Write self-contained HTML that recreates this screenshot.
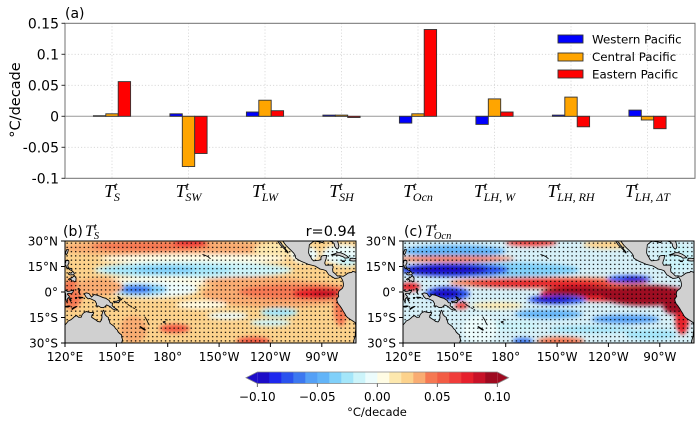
<!DOCTYPE html>
<html><head><meta charset="utf-8"><style>body{margin:0;background:#fff}svg{display:block}
.ml{font-family:"Liberation Serif","DejaVu Serif",serif;font-style:italic}
</style></head><body>
<svg width="700" height="423" viewBox="0 0 700 423" xmlns="http://www.w3.org/2000/svg" font-family="DejaVu Sans, Liberation Sans, sans-serif">
<defs>
<filter id="blur" x="-0.2" y="-0.2" width="1.4" height="1.4"><feGaussianBlur stdDeviation="1.2"/></filter>
<pattern id="dots" patternUnits="userSpaceOnUse" x="120" y="-30" width="2.5" height="2.5"><circle cx="1.25" cy="1.25" r="0.43" fill="#000"/></pattern>
<clipPath id="mc"><rect x="120" y="-30" width="170" height="60"/></clipPath>
<g id="land" fill="#d0d0d0" stroke="#000" stroke-width="0.5" stroke-linejoin="round">
<polygon points="120,19.5 122,17 123.5,16.3 124.5,15.5 125.5,14.5 126.8,13.9 128,14.9 129.5,14.8 130,13.3 131,12.2 132.5,11.5 133.5,11.8 135,12.1 136.8,12.1 136.5,13 135.8,13.5 135.5,14.8 136.5,15.5 137.8,16.3 139,17.3 140.5,17.6 141.3,16.5 141.6,15 141.5,13.5 141.8,12.5 142.2,11 142.6,10.7 143,11.8 143.5,13.5 144.3,14.3 145.3,14.9 145.4,16 146,17.2 146.3,18.5 147.5,19.3 148.8,20.3 149.5,21.5 150.5,22.3 151,23.5 152,24.5 153.1,25.3 153.1,26.5 153.6,28 153.1,30 153,31 119,31 119,19.8"/>
<polygon points="131,1 132.5,0.5 134,0.9 135.5,3 137,1.5 138.5,1.8 140.5,2.5 142,3.2 144,3.8 145.8,5 146.5,6.3 147.8,6.5 147.5,8 148.5,9 150,10 150.8,10.6 149.5,10.6 147.8,10 146.5,8.7 144.3,7.6 143.5,8.5 142.5,9.2 141,9.1 139.5,8.2 138,8.3 138.5,7 137.6,5.3 136,4.5 134.5,3.8 133.5,4 132.2,2.8 131.5,1.5"/>
<polygon points="148.3,5.5 150,5.5 151.5,4.8 152.3,4.3 151.8,5.8 150.5,6.3 149,6.2"/>
<polygon points="150.8,2.6 152.3,3.5 153.2,4.5 152.5,4.8 151.5,3.6"/>
<polyline fill="none" points="154.6,5.3 155.5,6.2 155.8,6.9"/>
<polyline fill="none" points="156.5,7 157.5,8 159,8.5"/>
<polyline fill="none" points="159.5,9.2 160.8,9.8"/>
<polyline fill="none" points="160.8,8.5 161.5,9.5"/>
<polyline fill="none" points="161.3,10.2 162.2,10.8"/>
<polyline fill="none" points="166.5,14.5 167.2,15.5 167.8,16.5 168.3,17.7 169.3,19.5"/>
<polygon points="164,20.3 165.5,21.3 167,22.3 166.6,22.5 165,21.5 163.8,20.4"/>
<polygon points="177.3,17.5 178.5,17.3 178.3,18.2 177.5,18"/>
<polyline fill="none" points="178.9,16.3 180,16.5"/>
<polyline fill="none" points="200.3,-22.1 202,-21.5 203.5,-20.8 205,-19.5"/>
<polygon points="120.5,-18.5 122.2,-18.5 122.3,-17 121.6,-15.8 122,-14.2 124,-13.7 124,-12.6 123,-13 121.8,-13.9 120.8,-14.5 120.6,-15.5 120,-16.3 120.4,-17.5"/>
<polygon points="122,-7.5 123,-8 124,-8.3 125.5,-9.7 126.5,-8 126.3,-6.5 125.5,-5.9 125,-6.5 124,-6.5 123.5,-7.5 122.5,-7"/>
<polygon points="122.5,-11.5 123.5,-11 124.5,-12.2 125.5,-11 125,-10 124,-10.2 123,-10 122,-10.5"/>
<polygon points="120.2,-22.8 121,-25 122,-25 121.5,-23 120.8,-22"/>
<polygon points="119.8,-0.5 120.3,0.8 120.5,2.5 120.3,3.7 120.9,5.6 121.5,5.4 121.3,4.2 122,3.2 122.8,4.5 123.2,5.5 123.6,5.1 123.1,3.8 122.3,2.3 121.3,1.2 121.8,0.8 123.3,0.8 124.4,0.5 125.2,-1.3 124.4,-0.9 122.8,-0.5 121.2,-0.3 120.8,-1.2 120.2,-0.9"/>
<polygon points="127.5,-1.8 128.2,-1 128,0.2 128.6,1 128.3,0.1 128.7,-1.5 128,-2.2"/>
<polygon points="128,3 130.5,3.2 130,3.5 128.2,3.4"/>
<polygon points="126,3.3 127,3.2 126.7,3.8"/>
<polygon points="124,9.9 125.2,9 127,8.4 126.5,8.8 125,9.7 124.2,10.3"/>
<polygon points="120,8.5 122,8.2 123,8.3 122,8.8 120.5,8.8"/>
<polygon points="244.2,-31 244.2,-30 245.5,-28 247,-26.5 248.5,-25 249.5,-23.5 250.2,-22.9 250.3,-23.5 249,-25 248,-26.5 246.7,-28 245.5,-29.5 245.3,-31"/>
<polygon points="247.2,-31 247.2,-30 249,-27.5 250.5,-26 252,-24.5 253.5,-23 254.5,-21.5 254.7,-20 256,-19.1 258,-18 260,-17.2 262,-16.3 264,-15.8 266,-15.3 267.5,-14.4 269,-13.5 271,-13.1 272.5,-12.5 273.3,-11.3 274.2,-10 275,-9.6 276,-9 277.5,-8 279,-8.1 280,-8.3 280.7,-8.9 281.3,-8.4 281.9,-7.4 282.3,-6.4 282.6,-5 282.6,-3.5 282,-2.2 281,-1.3 280.3,-0.9 279.8,0 279.6,1.5 279.9,2.5 279.2,3.5 278.7,4.5 279,5.5 279.5,6.8 280.5,8 281.5,9.5 282.5,11.2 283.5,12.8 284,13.8 285,15 286.5,16 288,17 289.5,18 289.8,19.5 289.8,22 289.6,24 289.5,26 288.8,28 288.5,30 288.5,31 292,31 292,-10.8 290,-11.5 289.2,-11.8 288,-12.2 287.5,-11.5 286,-11.3 285,-11 284.5,-10.5 283.5,-9.8 282.5,-9.2 281.5,-9.4 280.5,-9.5 279.2,-9.4 278.5,-10 277.8,-10.8 276.5,-11.8 276.3,-13.5 276.7,-14.8 276,-15.8 275,-15.9 274,-15.8 272.2,-15.8 271.7,-17 272,-18.2 272.5,-19.5 272.8,-21.5 271.5,-21.5 270,-21.2 269.5,-20.3 269.5,-19 268,-18.6 266.5,-18.5 265.3,-18.3 264.2,-19.2 263.6,-20.5 262.8,-21.7 262.3,-23 262.4,-25 262.6,-26.5 262.7,-27.7 263.5,-28.5 264.5,-29.3 265.5,-29.8 266.3,-29.8 268,-29.6 269.5,-29.3 270.5,-29 271,-29.8 272.5,-30.3 275,-29.8 276,-29.5 277.2,-28.5 277.5,-27 278.2,-25.9 279,-25.2 279.7,-25.8 280,-27 279.5,-29 278.8,-31"/>
<polygon points="275.5,-21.8 277,-22.3 279,-23.1 281,-23.1 283,-22.3 285,-21 285.8,-20.2 283.5,-19.9 282.5,-20.7 280,-21.6 277.5,-21.9"/>
<polygon points="286.5,-19.8 288,-19.9 290,-19.6 291.5,-18.5 288.5,-18.2 286.5,-18.4"/>
<polygon points="281.7,-18.4 283.3,-18.2 283.2,-17.8 282,-17.9"/>
</g>
</defs>

<!-- ===== Panel (a) ===== -->
<g stroke="#d4d4d4" stroke-width="0.8" stroke-dasharray="1.2,2">
<line x1="65" y1="54.3" x2="695" y2="54.3"/><line x1="65" y1="85.3" x2="695" y2="85.3"/>
<line x1="65" y1="147.3" x2="695" y2="147.3"/>
<line x1="112" y1="23" x2="112" y2="178"/><line x1="188.5" y1="23" x2="188.5" y2="178"/>
<line x1="265" y1="23" x2="265" y2="178"/><line x1="341.5" y1="23" x2="341.5" y2="178"/>
<line x1="418" y1="23" x2="418" y2="178"/><line x1="494.5" y1="23" x2="494.5" y2="178"/>
<line x1="571" y1="23" x2="571" y2="178"/><line x1="647.5" y1="23" x2="647.5" y2="178"/>
</g>
<line x1="65" y1="116.3" x2="695" y2="116.3" stroke="#999" stroke-width="1"/>
<g stroke="#333" stroke-width="0.9">
<rect x="93.4" y="115.7" width="12.4" height="0.6" fill="#0000ff"/>
<rect x="105.8" y="113.8" width="12.4" height="2.5" fill="#ffa500"/>
<rect x="118.2" y="81.6" width="12.4" height="34.7" fill="#ff0000"/>
<rect x="169.9" y="113.8" width="12.4" height="2.5" fill="#0000ff"/>
<rect x="182.3" y="116.3" width="12.4" height="50.2" fill="#ffa500"/>
<rect x="194.7" y="116.3" width="12.4" height="37.2" fill="#ff0000"/>
<rect x="246.4" y="112.0" width="12.4" height="4.3" fill="#0000ff"/>
<rect x="258.8" y="100.2" width="12.4" height="16.1" fill="#ffa500"/>
<rect x="271.2" y="110.7" width="12.4" height="5.6" fill="#ff0000"/>
<rect x="322.9" y="115.1" width="12.4" height="1.2" fill="#0000ff"/>
<rect x="335.3" y="115.1" width="12.4" height="1.2" fill="#ffa500"/>
<rect x="347.7" y="116.3" width="12.4" height="1.2" fill="#ff0000"/>
<rect x="399.4" y="116.3" width="12.4" height="6.8" fill="#0000ff"/>
<rect x="411.8" y="113.8" width="12.4" height="2.5" fill="#ffa500"/>
<rect x="424.2" y="29.5" width="12.4" height="86.8" fill="#ff0000"/>
<rect x="475.9" y="116.3" width="12.4" height="8.1" fill="#0000ff"/>
<rect x="488.3" y="98.9" width="12.4" height="17.4" fill="#ffa500"/>
<rect x="500.7" y="112.0" width="12.4" height="4.3" fill="#ff0000"/>
<rect x="552.4" y="115.1" width="12.4" height="1.2" fill="#0000ff"/>
<rect x="564.8" y="97.1" width="12.4" height="19.2" fill="#ffa500"/>
<rect x="577.2" y="116.3" width="12.4" height="10.5" fill="#ff0000"/>
<rect x="628.9" y="110.1" width="12.4" height="6.2" fill="#0000ff"/>
<rect x="641.3" y="116.3" width="12.4" height="3.7" fill="#ffa500"/>
<rect x="653.7" y="116.3" width="12.4" height="12.4" fill="#ff0000"/>
</g>
<rect x="65" y="23.3" width="630" height="155" fill="none" stroke="#707070" stroke-width="1"/>
<g stroke="#333" stroke-width="1">
<line x1="61.5" y1="23.3" x2="65" y2="23.3"/><line x1="61.5" y1="54.3" x2="65" y2="54.3"/>
<line x1="61.5" y1="85.3" x2="65" y2="85.3"/><line x1="61.5" y1="116.3" x2="65" y2="116.3"/>
<line x1="61.5" y1="147.3" x2="65" y2="147.3"/><line x1="61.5" y1="178.3" x2="65" y2="178.3"/>
</g>
<g font-size="14" text-anchor="end" fill="#000">
<text x="59" y="28.3">0.15</text><text x="59" y="59.3">0.1</text><text x="59" y="90.3">0.05</text>
<text x="59" y="121.3">0</text><text x="59" y="152.3">-0.05</text><text x="59" y="183.3">-0.1</text>
</g>
<text x="65" y="18" font-size="14">(a)</text>
<text transform="translate(20,100) rotate(-90)" text-anchor="middle" font-size="14.5">°C/decade</text>
<!-- legend -->
<g stroke="#333" stroke-width="0.9">
<rect x="558" y="35" width="25" height="8" fill="#0000ff"/>
<rect x="558" y="53" width="25" height="8" fill="#ffa500"/>
<rect x="558" y="70" width="25" height="8" fill="#ff0000"/>
</g>
<g font-size="11.8" fill="#000">
<text x="592" y="43.3">Western Pacific</text>
<text x="592" y="61">Central Pacific</text>
<text x="592" y="78.3">Eastern Pacific</text>
</g>
<!-- x labels -->
<g class="ml" font-size="18" text-anchor="middle">
<text x="112" y="197">T<tspan font-size="12" dy="-7">t</tspan><tspan font-size="12" dx="-3.5" dy="11">S</tspan></text>
<text x="188.5" y="197">T<tspan font-size="12" dy="-7">t</tspan><tspan font-size="12" dx="-3.5" dy="11">SW</tspan></text>
<text x="265" y="197">T<tspan font-size="12" dy="-7">t</tspan><tspan font-size="12" dx="-3.5" dy="11">LW</tspan></text>
<text x="341.5" y="197">T<tspan font-size="12" dy="-7">t</tspan><tspan font-size="12" dx="-3.5" dy="11">SH</tspan></text>
<text x="418" y="197">T<tspan font-size="12" dy="-7">t</tspan><tspan font-size="12" dx="-3.5" dy="11">Ocn</tspan></text>
<text x="494.5" y="197">T<tspan font-size="12" dy="-7">t</tspan><tspan font-size="12" dx="-3.5" dy="11">LH, W</tspan></text>
<text x="571" y="197">T<tspan font-size="12" dy="-7">t</tspan><tspan font-size="12" dx="-3.5" dy="11">LH, RH</tspan></text>
<text x="647.5" y="197">T<tspan font-size="12" dy="-7">t</tspan><tspan font-size="12" dx="-3.5" dy="11">LH, ΔT</tspan></text>
</g>

<!-- ===== Map (b) ===== -->
<g transform="translate(65,241) scale(1.712,1.7) translate(-120,30)">
<g clip-path="url(#mc)">
<rect x="120" y="-30" width="170" height="60" fill="#fcd28c"/>
<g filter="url(#blur)">
<ellipse cx="180" cy="-26" rx="62" ry="5" fill="#f9ac72"/>
<ellipse cx="170" cy="-27" rx="35" ry="3" fill="#f57852"/>
<ellipse cx="193" cy="-29" rx="10" ry="2.5" fill="#f03c3a"/>
<ellipse cx="245" cy="-25" rx="15" ry="4" fill="#fde8ae"/>
<ellipse cx="195" cy="-19.5" rx="55" ry="3" fill="#fffce4"/>
<ellipse cx="195" cy="-13" rx="58" ry="5" fill="#ccf4fa"/>
<ellipse cx="180" cy="-13" rx="38" ry="3.5" fill="#a4e6fa"/>
<ellipse cx="178" cy="-13" rx="18" ry="2.2" fill="#80d0fa"/>
<ellipse cx="175" cy="-6" rx="35" ry="3" fill="#fffce4"/>
<ellipse cx="230" cy="-6" rx="30" ry="3" fill="#f9ac72"/>
<ellipse cx="170" cy="-1.5" rx="28" ry="5" fill="#ecfcfc"/>
<ellipse cx="163" cy="-1.5" rx="17" ry="3.5" fill="#80d0fa"/>
<ellipse cx="162" cy="-1.5" rx="9" ry="2.3" fill="#3c78f0"/>
<ellipse cx="245" cy="1" rx="45" ry="8" fill="#f9ac72"/>
<ellipse cx="255" cy="0" rx="34" ry="4.5" fill="#f57852"/>
<ellipse cx="268" cy="1" rx="15" ry="3.5" fill="#e6202c"/>
<ellipse cx="272" cy="1" rx="8" ry="2.5" fill="#c81228"/>
<ellipse cx="281" cy="10" rx="4" ry="10" fill="#f57852"/>
<ellipse cx="124" cy="1" rx="6" ry="9" fill="#f57852"/>
<ellipse cx="140" cy="-3" rx="14" ry="5" fill="#f9ac72"/>
<ellipse cx="200" cy="7.5" rx="15" ry="2.5" fill="#fffce4"/>
<ellipse cx="245" cy="12" rx="11" ry="2.5" fill="#a4e6fa"/>
<ellipse cx="240" cy="18" rx="12" ry="2" fill="#ccf4fa"/>
<ellipse cx="215" cy="14" rx="12" ry="2" fill="#ecfcfc"/>
<ellipse cx="170" cy="12" rx="15" ry="5" fill="#fcd28c"/>
<ellipse cx="160" cy="22" rx="8" ry="8" fill="#f9ac72"/>
<ellipse cx="184" cy="21.5" rx="9" ry="2.5" fill="#f25c44"/>
<ellipse cx="230" cy="29" rx="10" ry="2.5" fill="#f25c44"/>
<ellipse cx="260" cy="-22" rx="8" ry="5" fill="#ecfcfc"/>
<ellipse cx="282" cy="-22" rx="12" ry="6" fill="#ecfcfc"/>
<ellipse cx="285" cy="-18" rx="6" ry="3" fill="#ccf4fa"/>
</g>
<rect x="120" y="-30" width="170" height="60" fill="url(#dots)"/>
<use href="#land"/>
</g>
</g>
<rect x="65" y="241" width="291" height="102" fill="none" stroke="#000" stroke-width="1"/>

<!-- ===== Map (c) ===== -->
<g transform="translate(403,241) scale(1.712,1.7) translate(-120,30)">
<g clip-path="url(#mc)">
<rect x="120" y="-30" width="170" height="60" fill="#d6f0f8"/>
<g filter="url(#blur)">
<ellipse cx="150" cy="-24" rx="30" ry="3.5" fill="#62b4f8"/>
<ellipse cx="195" cy="-29" rx="15" ry="2" fill="#f03c3a"/>
<ellipse cx="240" cy="-28" rx="15" ry="2.5" fill="#fcd28c"/>
<ellipse cx="150" cy="-19.5" rx="35" ry="1.8" fill="#f57852"/>
<ellipse cx="175" cy="-13" rx="48" ry="4.5" fill="#80d0fa"/>
<ellipse cx="150" cy="-13" rx="32" ry="4" fill="#2a52ee"/>
<ellipse cx="145" cy="-13" rx="24" ry="3" fill="#1c0cc8"/>
<ellipse cx="205" cy="-5.5" rx="58" ry="3.2" fill="#f57852"/>
<ellipse cx="200" cy="-5" rx="42" ry="2.3" fill="#e6202c"/>
<ellipse cx="252" cy="-7.5" rx="13" ry="2.2" fill="#2a52ee"/>
<ellipse cx="255" cy="-7.5" rx="7" ry="1.5" fill="#1c0cc8"/>
<ellipse cx="124" cy="-3" rx="6" ry="2.5" fill="#e6202c"/>
<ellipse cx="146" cy="1" rx="13" ry="4" fill="#2a52ee"/>
<ellipse cx="145" cy="1" rx="9" ry="3" fill="#1c0cc8"/>
<ellipse cx="245" cy="1" rx="45" ry="4.5" fill="#e6202c"/>
<ellipse cx="262" cy="2" rx="26" ry="6" fill="#9e0a20"/>
<ellipse cx="228" cy="-0.5" rx="26" ry="2.8" fill="#9e0a20"/>
<ellipse cx="283" cy="15" rx="4" ry="10" fill="#e6202c"/>
<ellipse cx="278" cy="8" rx="6" ry="5" fill="#9e0a20"/>
<ellipse cx="210" cy="4.5" rx="17" ry="2.6" fill="#2a52ee"/>
<ellipse cx="208" cy="4.5" rx="11" ry="1.8" fill="#1c0cc8"/>
<ellipse cx="154" cy="8" rx="4" ry="2" fill="#f03c3a"/>
<ellipse cx="205" cy="13" rx="20" ry="2.5" fill="#62b4f8"/>
<ellipse cx="250" cy="16" rx="20" ry="2.5" fill="#54a0f6"/>
<ellipse cx="175" cy="8" rx="15" ry="2" fill="#fde8ae"/>
<ellipse cx="230" cy="22" rx="25" ry="2" fill="#a4e6fa"/>
<ellipse cx="265" cy="25" rx="15" ry="3" fill="#a4e6fa"/>
<ellipse cx="185" cy="20" rx="15" ry="3" fill="#ccf4fa"/>
<ellipse cx="212" cy="29" rx="14" ry="2.5" fill="#f57852"/>
<ellipse cx="190" cy="29" rx="6" ry="2" fill="#3c78f0"/>
<ellipse cx="165" cy="22" rx="10" ry="8" fill="#ecfcfc"/>
<ellipse cx="280" cy="-20" rx="10" ry="8" fill="#ccf4fa"/>
</g>
<rect x="120" y="-30" width="170" height="60" fill="url(#dots)"/>
<use href="#land"/>
</g>
</g>
<rect x="403" y="241" width="291" height="102" fill="none" stroke="#000" stroke-width="1"/>

<!-- map ticks -->
<g stroke="#000" stroke-width="1">
<line x1="61" y1="241" x2="65" y2="241"/><line x1="61" y1="266.5" x2="65" y2="266.5"/><line x1="61" y1="292" x2="65" y2="292"/><line x1="61" y1="317.5" x2="65" y2="317.5"/><line x1="61" y1="343" x2="65" y2="343"/>
<line x1="399" y1="241" x2="403" y2="241"/><line x1="399" y1="266.5" x2="403" y2="266.5"/><line x1="399" y1="292" x2="403" y2="292"/><line x1="399" y1="317.5" x2="403" y2="317.5"/><line x1="399" y1="343" x2="403" y2="343"/>
<line x1="65" y1="343" x2="65" y2="347"/><line x1="116.4" y1="343" x2="116.4" y2="347"/><line x1="167.7" y1="343" x2="167.7" y2="347"/><line x1="219.1" y1="343" x2="219.1" y2="347"/><line x1="270.4" y1="343" x2="270.4" y2="347"/><line x1="321.8" y1="343" x2="321.8" y2="347"/>
<line x1="403" y1="343" x2="403" y2="347"/><line x1="454.4" y1="343" x2="454.4" y2="347"/><line x1="505.7" y1="343" x2="505.7" y2="347"/><line x1="557.1" y1="343" x2="557.1" y2="347"/><line x1="608.4" y1="343" x2="608.4" y2="347"/><line x1="659.8" y1="343" x2="659.8" y2="347"/>
</g>
<g font-size="12" text-anchor="end">
<text x="58" y="245.3">30°N</text><text x="58" y="270.8">15°N</text><text x="58" y="296.3">0°</text><text x="58" y="321.8">15°S</text><text x="58" y="347.3">30°S</text>
<text x="396" y="245.3">30°N</text><text x="396" y="270.8">15°N</text><text x="396" y="296.3">0°</text><text x="396" y="321.8">15°S</text><text x="396" y="347.3">30°S</text>
</g>
<g font-size="12" text-anchor="middle">
<text x="65" y="361">120°E</text><text x="116.4" y="361">150°E</text><text x="167.7" y="361">180°</text><text x="219.1" y="361">150°W</text><text x="270.4" y="361">120°W</text><text x="321.8" y="361">90°W</text>
<text x="403" y="361">120°E</text><text x="454.4" y="361">150°E</text><text x="505.7" y="361">180°</text><text x="557.1" y="361">150°W</text><text x="608.4" y="361">120°W</text><text x="659.8" y="361">90°W</text>
</g>
<!-- map titles -->
<text x="63" y="236" font-size="14">(b)</text>
<text x="85" y="236" class="ml" font-size="16">T<tspan font-size="10.5" dy="-6">t</tspan><tspan font-size="10.5" dx="-3" dy="9">S</tspan></text>
<text x="356" y="236" font-size="14.5" text-anchor="end">r=0.94</text>
<text x="404" y="236" font-size="14">(c)</text>
<text x="425" y="236" class="ml" font-size="16">T<tspan font-size="10.5" dy="-6">t</tspan><tspan font-size="10.5" dx="-3" dy="9">Ocn</tspan></text>

<!-- colorbar -->
<g>
<polygon points="257.3,372 246,377.75 257.3,383.5" fill="#1c0cc8"/>
<polygon points="497.3,372 508.5,377.75 497.3,383.5" fill="#9e0a20"/>
<rect x="257.3" y="372" width="12.2" height="11.5" fill="#1c0cc8"/>
<rect x="269.3" y="372" width="12.2" height="11.5" fill="#1e28ee"/>
<rect x="281.3" y="372" width="12.2" height="11.5" fill="#2a52ee"/>
<rect x="293.3" y="372" width="12.2" height="11.5" fill="#3c78f0"/>
<rect x="305.3" y="372" width="12.2" height="11.5" fill="#54a0f6"/>
<rect x="317.3" y="372" width="12.2" height="11.5" fill="#62b4f8"/>
<rect x="329.3" y="372" width="12.2" height="11.5" fill="#80d0fa"/>
<rect x="341.3" y="372" width="12.2" height="11.5" fill="#a4e6fa"/>
<rect x="353.3" y="372" width="12.2" height="11.5" fill="#ccf4fa"/>
<rect x="365.3" y="372" width="12.2" height="11.5" fill="#ecfcfc"/>
<rect x="377.3" y="372" width="12.2" height="11.5" fill="#fffce4"/>
<rect x="389.3" y="372" width="12.2" height="11.5" fill="#fde8ae"/>
<rect x="401.3" y="372" width="12.2" height="11.5" fill="#fcd28c"/>
<rect x="413.3" y="372" width="12.2" height="11.5" fill="#f9ac72"/>
<rect x="425.3" y="372" width="12.2" height="11.5" fill="#f57852"/>
<rect x="437.3" y="372" width="12.2" height="11.5" fill="#f25c44"/>
<rect x="449.3" y="372" width="12.2" height="11.5" fill="#f03c3a"/>
<rect x="461.3" y="372" width="12.2" height="11.5" fill="#e6202c"/>
<rect x="473.3" y="372" width="12.2" height="11.5" fill="#c81228"/>
<rect x="485.3" y="372" width="12" height="11.5" fill="#9e0a20"/>
<polygon points="257.3,372 497.3,372 508.5,377.75 497.3,383.5 257.3,383.5 246,377.75" fill="none" stroke="#888" stroke-width="0.8"/>
</g>
<g stroke="#444" stroke-width="0.8">
<line x1="257.3" y1="383.5" x2="257.3" y2="387"/><line x1="317.3" y1="383.5" x2="317.3" y2="387"/><line x1="377.3" y1="383.5" x2="377.3" y2="387"/><line x1="437.3" y1="383.5" x2="437.3" y2="387"/><line x1="497.3" y1="383.5" x2="497.3" y2="387"/>
</g>
<g font-size="12" text-anchor="middle">
<text x="257.3" y="401">−0.10</text><text x="317.3" y="401">−0.05</text><text x="377.3" y="401">0.00</text><text x="437.3" y="401">0.05</text><text x="497.3" y="401">0.10</text>
</g>
<text x="377" y="416" font-size="11.5" text-anchor="middle">°C/decade</text>
</svg>
</body></html>
